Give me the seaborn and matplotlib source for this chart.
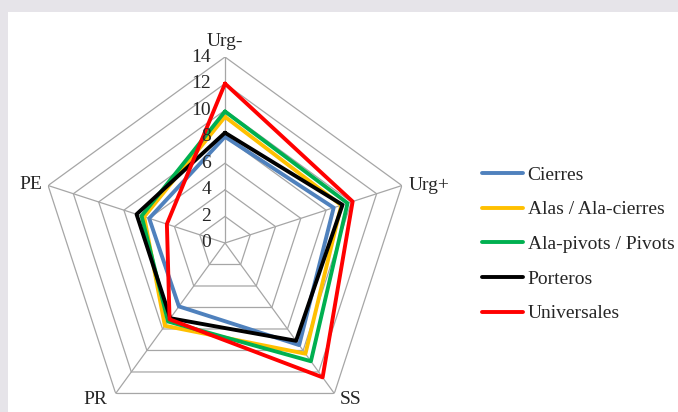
import numpy as np
import pandas as pd
import matplotlib
matplotlib.use("Agg")
import matplotlib.pyplot as plt
from matplotlib.patches import Rectangle
from matplotlib.lines import Line2D
import seaborn as sns

# --- data ---
axis_labels = ["Urg-", "Urg+", "SS", "PR", "PE"]
cierres = [8.0, 8.6, 9.5, 5.9, 6.0]
alas = [9.5, 9.2, 10.3, 7.7, 6.4]
ala_pivots = [9.9, 9.7, 11.0, 7.3, 6.6]
porteros = [8.3, 9.3, 9.1, 7.0, 7.0]
universales = [12.0, 10.1, 12.5, 7.1, 4.6]
series_names = ["Cierres", "Alas / Ala-cierres", "Ala-pivots / Pivots", "Porteros", "Universales"]
ticks = [0, 2, 4, 6, 8, 10, 12, 14]

colors = ["#4F81BD", "#FFC000", "#00B050", "#000000", "#FF0000"]

sns.set_style("white")
serif = "Liberation Serif"
plt.rcParams['font.family'] = [serif, 'DejaVu Serif']
fs = 14

# build a long table, closing each polygon by repeating the first value at 2*pi
n = len(axis_labels)
angles = [i * 2 * np.pi / n for i in range(n)] + [2 * np.pi]
rows = []
for name, vals in zip(series_names, [cierres, alas, ala_pivots, porteros, universales]):
    for a, v in zip(angles, vals + vals[:1]):
        rows.append({"angle": a, "value": v, "serie": name})
df = pd.DataFrame(rows)

fig = plt.figure(figsize=(6.78, 4.12), dpi=100, facecolor="#E6E4E9")
fig.add_artist(Rectangle((8 / 678, 0), 1, (412 - 12) / 412, transform=fig.transFigure,
                         facecolor="white", edgecolor="none", zorder=0))

# centre of the radar at (225, 243) px, radius 186 px
cx, cy, rad = 225, 243, 186
ax = fig.add_axes([(cx - rad) / 678, (412 - cy - rad) / 412, 2 * rad / 678, 2 * rad / 412],
                  projection="polar")
ax.set_facecolor("none")
ax.set_theta_offset(np.pi / 2)
ax.set_theta_direction(-1)
ax.set_ylim(0, 14)
ax.grid(False)
ax.spines["polar"].set_visible(False)
ax.set_xticks([])
ax.set_yticks([])

# pentagon grid and spokes
grid_col = "#A6A6A6"
for t in ticks[1:]:
    ax.plot(angles, [t] * len(angles), color=grid_col, lw=0.9, zorder=1)
for a in angles[:-1]:
    ax.plot([a, a], [0, 14], color=grid_col, lw=0.9, zorder=1)

# series
sns.lineplot(data=df, x="angle", y="value", hue="serie", palette=colors,
             hue_order=series_names, sort=False, estimator=None, lw=2.8,
             legend=False, ax=ax, zorder=3)
ax.set_xlabel("")
ax.set_ylabel("")

# radial tick labels
for t in ticks:
    ax.annotate(str(t), (0, t), xytext=(-10, 0), textcoords="offset points",
                ha="right", va="center", fontsize=fs, family=serif)

# axis labels
label_pos = [((0, 5), "center", "bottom"),
             ((5, 0), "left", "center"),
             ((4, -4), "left", "center"),
             ((-6, -4), "right", "center"),
             ((-4, 1), "right", "center")]
for a, lab, (off, ha, va) in zip(angles[:-1], axis_labels, label_pos):
    ax.annotate(lab, (a, 14), xytext=off, textcoords="offset points",
                ha=ha, va=va, fontsize=fs, family=serif, annotation_clip=False)

handles = [Line2D([0], [0], color=c, lw=2.8) for c in colors]
fig.legend(handles, series_names, loc="upper left", bbox_to_anchor=(482 / 678, 1 - 166 / 412),
           frameon=False, prop={"family": serif, "size": fs}, handlelength=2.1,
           handletextpad=0.25, labelspacing=0.88, borderpad=0, borderaxespad=0)

fig.savefig("out.png", dpi=100, facecolor=fig.get_facecolor())
